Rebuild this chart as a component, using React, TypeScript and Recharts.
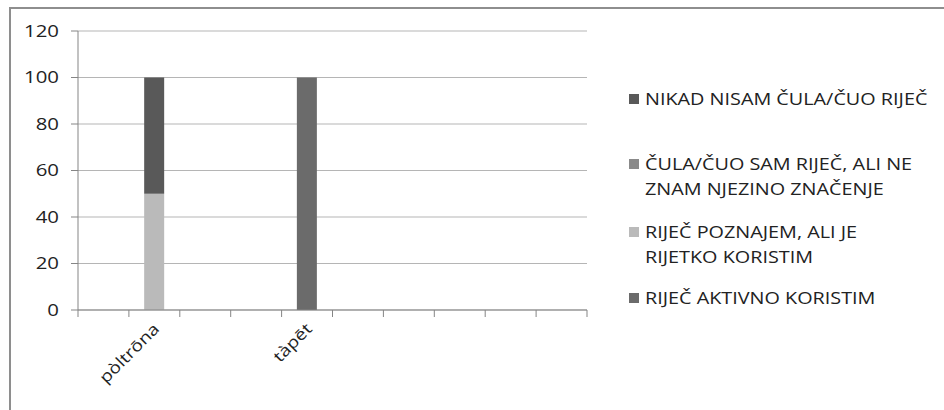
import React from "react";
import { BarChart, Bar, XAxis, YAxis, CartesianGrid } from "recharts";

const words = ["", "pòltrōna", "", "", "tàpēt", "", "", "", "", ""];
const aktivno = [null, null, null, null, 100, null, null, null, null, null];
const poznajem = [null, 50, null, null, null, null, null, null, null, null];
const cula = [null, null, null, null, null, null, null, null, null, null];
const nikad = [null, 50, null, null, null, null, null, null, null, null];
const yTicks = [0, 20, 40, 60, 80, 100, 120];

// stack order: bottom first
const series = [
  { key: "aktivno", name: "RIJEČ AKTIVNO KORISTIM", color: "#6b6b6b" },
  { key: "poznajem", name: "RIJEČ POZNAJEM, ALI JE RIJETKO KORISTIM", color: "#bababa" },
  { key: "cula", name: "ČULA/ČUO SAM RIJEČ,  ALI NE ZNAM NJEZINO ZNAČENJE", color: "#8a8a8a" },
  { key: "nikad", name: "NIKAD NISAM ČULA/ČUO RIJEČ", color: "#595959" },
];

const data = words.map((w, i) => ({
  word: w,
  aktivno: aktivno[i],
  poznajem: poznajem[i],
  cula: cula[i],
  nikad: nikad[i],
}));

const FONT = "'Open Sans', sans-serif";
const AXIS = "#858585";
const BAND = 509 / words.length;
const STRETCH = 1.2;

const XTick = (props: any) => {
  const { x, y, payload, index } = props;
  const last = index === words.length - 1;
  const tx = x + 6;
  const ty = y + 12;
  return (
    <g>
      <line x1={x - BAND / 2} x2={x - BAND / 2} y1={y - 8} y2={y - 1} stroke={AXIS} />
      {last && <line x1={x + BAND / 2} x2={x + BAND / 2} y1={y - 8} y2={y - 1} stroke={AXIS} />}
      {payload.value && (
        <text
          x={0}
          y={0}
          textAnchor="end"
          transform={`translate(${tx}, ${ty}) rotate(-45) scale(${STRETCH}, 1)`}
          fill="#222"
          fontSize={16}
          fontFamily={FONT}
        >
          {payload.value}
        </text>
      )}
    </g>
  );
};

const YTick = (props: any) => {
  const { x, y, payload } = props;
  return (
    <text
      x={0}
      y={0}
      dy="0.35em"
      textAnchor="end"
      transform={`translate(${x}, ${y}) scale(${STRETCH}, 1)`}
      fill="#222"
      fontSize={17}
      fontFamily={FONT}
    >
      {payload.value}
    </text>
  );
};

const gaps = [40, 18, 16, 0];

const LegendBox = () => (
  <div
    style={{
      position: "absolute",
      left: 629,
      top: 86,
      fontFamily: FONT,
      fontSize: 16.5,
      color: "#222",
      lineHeight: "25px",
    }}
  >
    {[...series].reverse().map((s, i) => (
      <div key={s.key} style={{ display: "flex", alignItems: "flex-start", marginBottom: gaps[i] }}>
        <span
          style={{
            width: 10,
            height: 10,
            background: s.color,
            marginTop: 8,
            marginRight: 6,
            flex: "none",
          }}
        />
        <span
          style={{
            display: "inline-block",
            width: 238,
            transform: `scaleX(${STRETCH})`,
            transformOrigin: "0 0",
          }}
        >
          {s.name}
        </span>
      </div>
    ))}
  </div>
);

export default function App() {
  return (
    <div style={{ position: "fixed", left: 0, top: 0, width: 944, height: 410, background: "#fff", overflow: "hidden" }}>
      <div
        style={{
          position: "absolute",
          left: 9,
          top: 7,
          width: 960,
          height: 430,
          borderTop: "2px solid #8e8e8e",
          borderLeft: "2px solid #8e8e8e",
        }}
      />
      <BarChart
        width={944}
        height={410}
        data={data}
        margin={{ top: 31, right: 357, bottom: 0, left: 18 }}
        barCategoryGap="30%"
        style={{ position: "absolute", left: 0, top: 0 }}
      >
        <CartesianGrid vertical={false} stroke="#b5b5b5" />
        <XAxis
          dataKey="word"
          height={100}
          interval={0}
          stroke={AXIS}
          tickLine={false}
          tick={<XTick />}
        />
        <YAxis
          domain={[0, 120]}
          ticks={yTicks}
          width={60}
          stroke={AXIS}
          tickSize={7}
          tickMargin={12}
          tick={<YTick />}
        />
        {series.map((s) => (
          <Bar key={s.key} dataKey={s.key} name={s.name} stackId="a" fill={s.color} isAnimationActive={false} />
        ))}
      </BarChart>
      <LegendBox />
    </div>
  );
}
